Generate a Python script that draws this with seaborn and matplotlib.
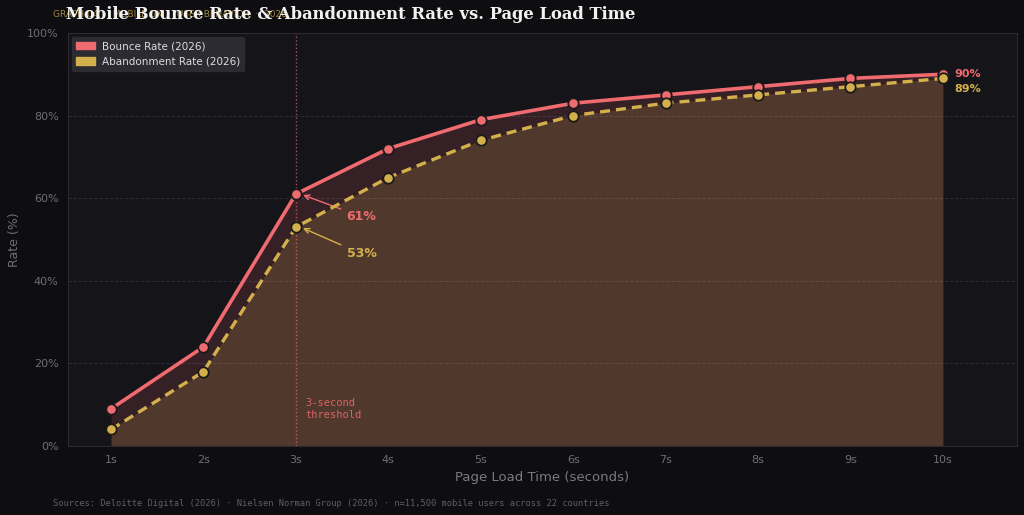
import numpy as np
import pandas as pd
import seaborn as sns
import matplotlib.pyplot as plt

# data
load_times = ['1s', '2s', '3s', '4s', '5s', '6s', '7s', '8s', '9s', '10s']
bounce = [9, 24, 61, 72, 79, 83, 85, 87, 89, 90]
abandon = [4, 18, 53, 65, 74, 80, 83, 85, 87, 89]

red = '#f06b70'
gold = '#d4b04c'
bg = '#0e0e10'
panel = '#141419'

df = pd.DataFrame({'t': range(len(load_times)), 'bounce': bounce, 'abandon': abandon})

sns.set_theme(style='dark')
plt.rcParams['font.family'] = ['DejaVu Sans']

fig, ax = plt.subplots(figsize=(10.24, 5.15), dpi=100)
fig.patch.set_facecolor(bg)
ax.set_facecolor(panel)
fig.subplots_adjust(left=0.066, right=0.993, top=0.936, bottom=0.134)

x = df['t']
# shaded areas
ax.fill_between(x, 0, df['bounce'], color=red, alpha=0.15, lw=0, zorder=1)
ax.fill_between(x, 0, df['abandon'], color=gold, alpha=0.18, lw=0, zorder=1)

sns.lineplot(data=df, x='t', y='bounce', ax=ax, color=red, lw=2.6, marker='o',
             markersize=7.5, markeredgecolor='#1a1a1a', markeredgewidth=1.3,
             label='Bounce Rate (2026)', zorder=4, legend=False)
sns.lineplot(data=df, x='t', y='abandon', ax=ax, color=gold, lw=2.4, ls=(0, (3, 1.8)),
             marker='o', markersize=7.5, markeredgecolor='#1a1a1a', markeredgewidth=1.3,
             label='Abandonment Rate (2026)', zorder=4, legend=False)

# threshold line
ax.axvline(2, color=red, ls=':', lw=1, alpha=0.7, zorder=2)
ax.text(2.1, 6.3, '3-second\nthreshold', color=red, alpha=0.85, fontsize=7.5,
        family='DejaVu Sans Mono', va='bottom', ha='left')

# annotations at 3s
ax.annotate('61%', xy=(2.05, bounce[2]), xytext=(2.55, 55.5), color=red,
            fontsize=9, fontweight='bold', va='center',
            arrowprops=dict(arrowstyle='->', color=red, lw=1))
ax.annotate('53%', xy=(2.05, abandon[2]), xytext=(2.55, 46.5), color=gold,
            fontsize=9, fontweight='bold', va='center',
            arrowprops=dict(arrowstyle='->', color=gold, lw=1))

# end labels
ax.text(9.12, bounce[-1], '90%', color=red, fontsize=8, fontweight='bold', va='center')
ax.text(9.12, abandon[-1] - 2.5, '89%', color=gold, fontsize=8, fontweight='bold', va='center')

ax.set_xlim(-0.47, 9.8)
ax.set_ylim(0, 100)
ax.set_xticks(range(len(load_times)))
ax.set_xticklabels(load_times)
ax.set_yticks(range(0, 101, 20))
ax.set_yticklabels([f'{v}%' for v in range(0, 101, 20)])
ax.tick_params(colors='#6e6e74', labelsize=8, length=3, color='#3a3a40')
ax.set_xlabel('Page Load Time (seconds)', color='#7a7a80', fontsize=9.5)
ax.set_ylabel('Rate (%)', color='#6e6e74', fontsize=9)
ax.yaxis.grid(True, color='#2c2c33', ls='--', lw=0.7)
ax.xaxis.grid(False)
for s in ax.spines.values():
    s.set_color('#2a2a30')
    s.set_linewidth(0.8)

leg = ax.legend(handles=[plt.Rectangle((0, 0), 1, 1, color=red),
                         plt.Rectangle((0, 0), 1, 1, color=gold)],
                labels=['Bounce Rate (2026)', 'Abandonment Rate (2026)'],
                loc='upper left', fontsize=7.5, facecolor='#2e2e34', edgecolor='#2e2e34',
                framealpha=0.9, labelcolor='#dddddd', borderaxespad=0.4,
                handlelength=1.8, handletextpad=0.7)

fig.text(0.052, 0.972, 'GRAPH 04  ·  MOBILE UX  ·  USER BEHAVIOR  ·  2026', color=gold,
         alpha=0.75, fontsize=6.5, va='center', ha='left')
fig.text(0.064, 0.972, 'Mobile Bounce Rate & Abandonment Rate vs. Page Load Time',
         color='#f2f2f2', fontsize=11.8, fontweight='bold', family='DejaVu Serif',
         va='center', ha='left')
fig.text(0.052, 0.022, 'Sources: Deloitte Digital (2026) · Nielsen Norman Group (2026) · '
         'n=11,500 mobile users across 22 countries', color='#5e5e64', fontsize=6.3,
         family='DejaVu Sans Mono', va='center', ha='left')

fig.savefig('out.png', dpi=100, facecolor=bg)
